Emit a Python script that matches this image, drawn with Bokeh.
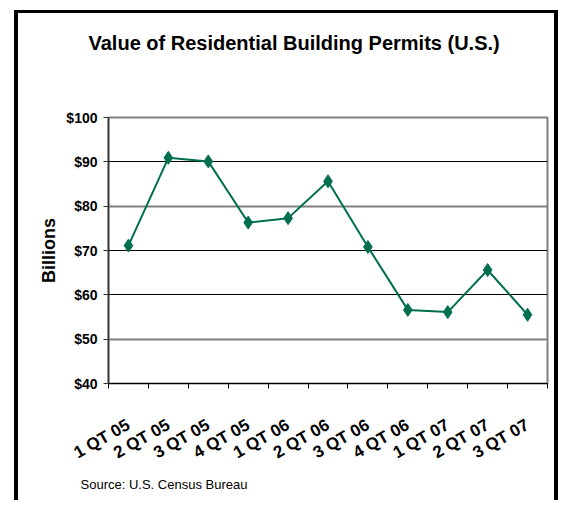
from bokeh.plotting import figure
from bokeh.models import Range1d, FixedTicker, Grid, Title
from bokeh.embed import file_html
from bokeh.resources import INLINE

quarters = ["1 QT 05", "2 QT 05", "3 QT 05", "4 QT 05", "1 QT 06", "2 QT 06",
            "3 QT 06", "4 QT 06", "1 QT 07", "2 QT 07", "3 QT 07"]
values = [71.1, 90.9, 90.1, 76.3, 77.3, 85.6, 70.8, 56.6, 56.1, 65.6, 55.5]
y_ticks = [40, 50, 60, 70, 80, 90, 100]
y_tick_labels = ["$40", "$50", "$60", "$70", "$80", "$90", "$100"]

FONT = "Liberation Sans"
GREEN = "#006f4f"

n = len(quarters)
x_pos = [i + 0.5 for i in range(n)]          # category centres
x_edges = list(range(n + 1))                  # category boundaries

p = figure(x_range=Range1d(0, n), y_range=Range1d(40, 100),
           width=544, height=490,
           output_backend="svg", toolbar_location=None,
           min_border_left=90, min_border_right=15,
           min_border_top=104, min_border_bottom=120)

# outer black chart border (open at the bottom, as in the original)
p.styles = {"margin-left": "14px", "margin-top": "10px",
            "border-left": "4px solid black", "border-top": "3px solid black",
            "border-right": "4px solid black"}

p.outline_line_color = "#808080"
p.outline_line_width = 2

# spacer between frame and title (pushes the title up)
p.add_layout(Title(text=" ", text_font_size="10px", standoff=46), "above")

# title
p.title.text = "Value of Residential Building Permits (U.S.)"
p.title.text_font = FONT
p.title.text_font_style = "bold"
p.title.text_font_size = "20px"
p.title.text_color = "black"
p.title.align = "left"
p.title.offset = -20
p.title.vertical_align = "bottom"
p.title.standoff = 10

# y axis
ya = p.yaxis[0]
ya.ticker = FixedTicker(ticks=y_ticks)
ya.major_label_overrides = {t: l for t, l in zip(y_ticks, y_tick_labels)}
ya.major_label_text_font = FONT
ya.major_label_text_font_style = "bold"
ya.major_label_text_font_size = "14px"
ya.major_label_text_color = "black"
ya.major_label_standoff = 6
ya.major_tick_in = 0
ya.major_tick_out = 5
ya.minor_tick_line_color = None
ya.axis_line_color = "#333333"
ya.axis_line_width = 1.5
ya.major_tick_line_color = "#333333"
ya.axis_label = "Billions"
ya.axis_label_text_font = FONT
ya.axis_label_text_font_style = "bold"
ya.axis_label_text_font_size = "18px"
ya.axis_label_text_color = "black"
ya.axis_label_standoff = 4

# x axis: labels at centres, tick marks at boundaries
xa = p.xaxis[0]
xa.ticker = FixedTicker(ticks=x_pos, minor_ticks=x_edges)
xa.major_label_overrides = {x: q for x, q in zip(x_pos, quarters)}
xa.major_tick_line_color = None
xa.major_tick_in = 0
xa.major_tick_out = 0
xa.minor_tick_in = 0
xa.minor_tick_out = 5
xa.minor_tick_line_color = "black"
xa.axis_line_color = "black"
xa.major_label_orientation = 0.52
xa.major_label_standoff = 35
xa.major_label_text_font = FONT
xa.major_label_text_font_style = "bold"
xa.major_label_text_font_size = "17px"
xa.major_label_text_color = "black"

# grids
p.xgrid.visible = False
p.ygrid.ticker = FixedTicker(ticks=[60, 70, 90])
p.ygrid.grid_line_color = "black"
p.ygrid.grid_line_width = 1
p.add_layout(Grid(dimension=1, ticker=FixedTicker(ticks=[50, 80]),
                  grid_line_color="#808080", grid_line_width=2))

# source note
p.add_layout(Title(text="Source:  U.S. Census Bureau", align="left", offset=-28,
                   text_font=FONT, text_font_style="normal", text_color="black",
                   text_font_size="13px", vertical_align="top", standoff=6),
             "below")

p.line(x_pos, values, line_color=GREEN, line_width=2)
p.scatter(x_pos, values, marker="diamond", size=13,
          fill_color=GREEN, line_color=GREEN)

open("out.html", "w").write(file_html(p, INLINE))
